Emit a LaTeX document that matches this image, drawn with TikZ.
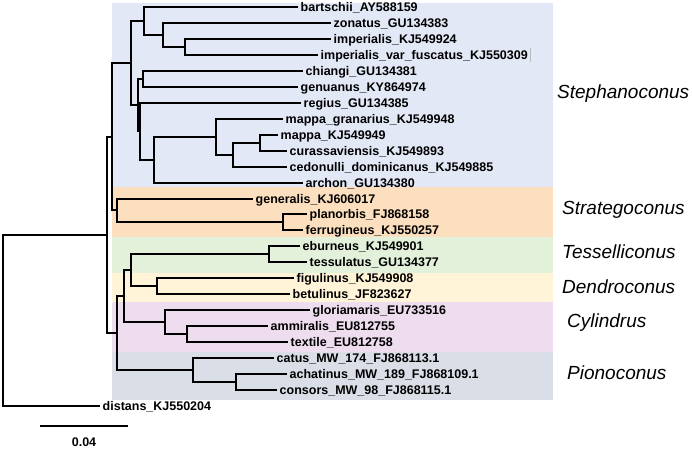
\documentclass[tikz,border=0pt]{standalone}
\usepackage{fontspec}
\setmainfont{Liberation Sans}
\definecolor{cSteph}{HTML}{E2E8F6}
\definecolor{cStrat}{HTML}{FCDFBE}
\definecolor{cTess}{HTML}{E3F0DA}
\definecolor{cDend}{HTML}{FFF4D7}
\definecolor{cCyl}{HTML}{EEDDEE}
\definecolor{cPion}{HTML}{DADEE7}
\tikzset{
  branch/.style={line width=2pt, black, line join=miter},
  leaf/.style={anchor=west, inner xsep=2.5pt, inner ysep=0pt, font=\bfseries\fontsize{12.5}{14}\selectfont, text height=9pt, text depth=0pt},
  clade/.style={anchor=west, inner sep=0pt, font=\itshape\fontsize{19}{22}\selectfont},
  band/.style={draw=none},
}
\newcommand{\clade}[3]{\draw[branch] (#2) -| (#1) |- (#3);}
\begin{document}
\begin{tikzpicture}[x=1pt,y=-1pt]
\useasboundingbox (0,0) rectangle (692,449);
\fill[white] (0,0) rectangle (692,449);
% bands
\fill[cSteph] (112,3) rectangle (553,187);
\fill[cStrat] (112,187) rectangle (553,237);
\fill[cTess] (112,237) rectangle (553,273);
\fill[cDend] (112,273) rectangle (553,302);
\fill[cCyl] (112,302) rectangle (553,352);
\fill[cPion] (112,352) rectangle (553,400);
% leaves
\node[leaf] (l0) at (298,7.00) {bartschii\_AY588159};
\node[leaf] (l1) at (331,22.96) {zonatus\_GU134383};
\node[leaf] (l2) at (331,38.92) {imperialis\_KJ549924};
\node[leaf] (l3) at (318,54.88) {imperialis\_var\_fuscatus\_KJ550309};
\node[leaf] (l4) at (303,70.84) {chiangi\_GU134381};
\node[leaf] (l5) at (298,86.80) {genuanus\_KY864974};
\node[leaf] (l6) at (301,102.76) {regius\_GU134385};
\node[leaf] (l7) at (283,118.72) {mappa\_granarius\_KJ549948};
\node[leaf] (l8) at (278,134.68) {mappa\_KJ549949};
\node[leaf] (l9) at (287,150.64) {curassaviensis\_KJ549893};
\node[leaf] (l10) at (287,166.60) {cedonulli\_dominicanus\_KJ549885};
\node[leaf] (l11) at (303,182.56) {archon\_GU134380};
\node[leaf] (l12) at (253,198.52) {generalis\_KJ606017};
\node[leaf] (l13) at (307,214.48) {planorbis\_FJ868158};
\node[leaf] (l14) at (303,230.44) {ferrugineus\_KJ550257};
\node[leaf] (l15) at (300,246.40) {eburneus\_KJ549901};
\node[leaf] (l16) at (307,262.36) {tessulatus\_GU134377};
\node[leaf] (l17) at (294,278.32) {figulinus\_KJ549908};
\node[leaf] (l18) at (290,294.28) {betulinus\_JF823627};
\node[leaf] (l19) at (310,310.24) {gloriamaris\_EU733516};
\node[leaf] (l20) at (268,326.20) {ammiralis\_EU812755};
\node[leaf] (l21) at (288,342.16) {textile\_EU812758};
\node[leaf] (l22) at (274,358.12) {catus\_MW\_174\_FJ868113.1};
\node[leaf] (l23) at (287,374.08) {achatinus\_MW\_189\_FJ868109.1};
\node[leaf] (l24) at (277,390.04) {consors\_MW\_98\_FJ868115.1};
\node[leaf] (l25) at (100,406.00) {distans\_KJ550204};
% internal nodes
\coordinate (nimp) at (185,46.90);
\coordinate (nzon) at (163,34.93);
\coordinate (nbart) at (144,20.965);
\coordinate (nchg) at (143,78.82);
\coordinate (nmc) at (260,142.66);
\coordinate (nmcc) at (233,154.63);
\coordinate (nmg) at (216,136.675);
\coordinate (nC) at (154,159.6175);
\coordinate (nB) at (140,131.19);
\coordinate (nA) at (138,105.005);
\coordinate (nsteph) at (131,62.985);
\coordinate (npf) at (283,222.46);
\coordinate (nstrat) at (117,210.49);
\coordinate (nss) at (112,136.74);
\coordinate (net) at (269,254.38);
\coordinate (nfb) at (157,286.3);
\coordinate (ntd) at (131,270.34);
\coordinate (nat) at (187,334.18);
\coordinate (ncyl) at (165,322.21);
\coordinate (ntdc) at (124,296.275);
\coordinate (nac) at (236,382.06);
\coordinate (npio) at (193,370.09);
\coordinate (nrest) at (117,333.18);
\coordinate (nin) at (107,234.96);
\coordinate (nroot) at (3,320.48);
% branches
\clade{nimp}{l2}{l3}
\clade{nzon}{l1}{nimp}
\clade{nbart}{l0}{nzon}
\clade{nchg}{l4}{l5}
\clade{nmc}{l8}{l9}
\clade{nmcc}{nmc}{l10}
\clade{nmg}{l7}{nmcc}
\clade{nC}{nmg}{l11}
\clade{nB}{l6}{nC}
\clade{nA}{nchg}{nB}
\clade{nsteph}{nbart}{nA}
\clade{npf}{l13}{l14}
\clade{nstrat}{l12}{npf}
\clade{nss}{nsteph}{nstrat}
\clade{net}{l15}{l16}
\clade{nfb}{l17}{l18}
\clade{ntd}{net}{nfb}
\clade{nat}{l20}{l21}
\clade{ncyl}{l19}{nat}
\clade{ntdc}{ntd}{ncyl}
\clade{nac}{l23}{l24}
\clade{npio}{l22}{nac}
\clade{nrest}{ntdc}{npio}
\clade{nin}{nss}{nrest}
\clade{nroot}{nin}{l25}
% cursor mark
\draw[gray!55, line width=0.7pt] (530.5,48) -- (530.5,62);
% clade labels
\node[clade] (t1) at (557,94) {Stephanoconus};
\node[clade] (t2) at (562,210) {Strategoconus};
\node[clade] (t3) at (562,252) {Tesselliconus};
\node[clade] (t4) at (562,287) {Dendroconus};
\node[clade] (t5) at (567,323) {Cylindrus};
\node[clade] (t6) at (567,373) {Pionoconus};
% scale bar
\coordinate (sb1) at (40,426);
\coordinate (sb2) at (128,426);
\draw[line width=2pt] (sb1) -- (sb2);
\node[font=\bfseries\fontsize{12.5}{14}\selectfont, inner sep=0pt] (sbl) at (84,442) {0.04};
\end{tikzpicture}
\end{document}
